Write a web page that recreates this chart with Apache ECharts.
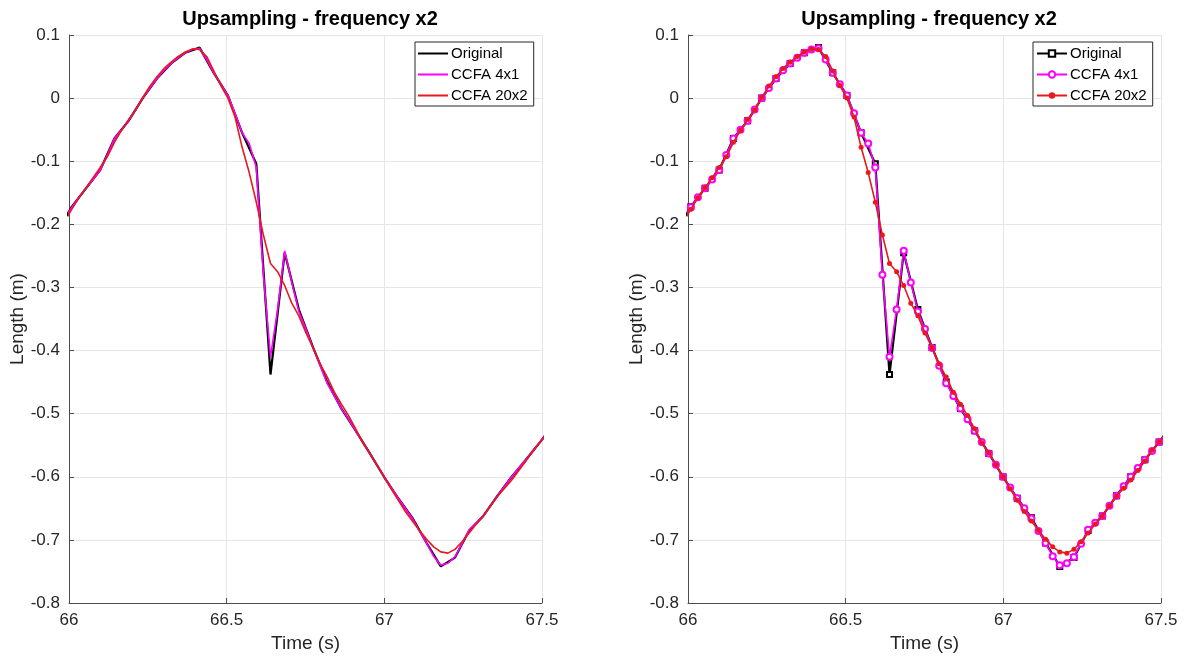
<!DOCTYPE html>
<html>
<head>
<meta charset="utf-8">
<title>Upsampling - frequency x2</title>
<script src="https://cdn.jsdelivr.net/npm/echarts@6/dist/echarts.min.js"></script>
<style>
  html, body { margin: 0; padding: 0; background: #fff; }
  #chart { width: 1188px; height: 659px; }
</style>
</head>
<body>
<div id="chart"></div>
<script>
// Original samples (s, m)
const origTime = [65.964, 66.009, 66.054, 66.099, 66.144, 66.189, 66.234, 66.279, 66.324, 66.369,
  66.414, 66.459, 66.504, 66.549, 66.594, 66.639, 66.684, 66.729, 66.774, 66.819,
  66.864, 66.909, 66.954, 66.999, 67.044, 67.089, 67.134, 67.179, 67.224, 67.269,
  67.314, 67.359, 67.404, 67.449, 67.494, 67.539];
const origLength = [-0.210, -0.172, -0.143, -0.114, -0.064, -0.036, 0.000, 0.031, 0.055, 0.072,
  0.080, 0.040, 0.004, -0.055, -0.104, -0.438, -0.245, -0.335, -0.395, -0.450,
  -0.492, -0.527, -0.563, -0.600, -0.634, -0.665, -0.705, -0.742, -0.728, -0.685,
  -0.662, -0.630, -0.600, -0.573, -0.545, -0.515];

// Upsampled time base (twice the original rate)
const upTime = [65.9865, 66.009, 66.0315, 66.054, 66.0765, 66.099, 66.1215, 66.144, 66.1665, 66.189,
  66.2115, 66.234, 66.2565, 66.279, 66.3015, 66.324, 66.3465, 66.369, 66.3915, 66.414,
  66.4365, 66.459, 66.4815, 66.504, 66.5265, 66.549, 66.5715, 66.594, 66.6165, 66.639,
  66.6615, 66.684, 66.7065, 66.729, 66.7515, 66.774, 66.7965, 66.819, 66.8415, 66.864,
  66.8865, 66.909, 66.9315, 66.954, 66.9765, 66.999, 67.0215, 67.044, 67.0665, 67.089,
  67.1115, 67.134, 67.1565, 67.179, 67.2015, 67.224, 67.2465, 67.269, 67.2915, 67.314,
  67.3365, 67.359, 67.3815, 67.404, 67.4265, 67.449, 67.4715, 67.494, 67.5165];

// CCFA 4x1 output
const ccfa4x1 = [-0.190, -0.173, -0.157, -0.143, -0.129, -0.114, -0.090, -0.064, -0.050, -0.036,
  -0.018, 0.000, 0.016, 0.031, 0.044, 0.055, 0.064, 0.072, 0.077, 0.079,
  0.061, 0.040, 0.022, 0.004, -0.024, -0.055, -0.072, -0.110, -0.280, -0.410,
  -0.335, -0.242, -0.292, -0.338, -0.366, -0.396, -0.424, -0.452, -0.472, -0.492,
  -0.509, -0.527, -0.545, -0.563, -0.581, -0.600, -0.617, -0.634, -0.650, -0.666,
  -0.686, -0.705, -0.726, -0.740, -0.737, -0.727, -0.706, -0.684, -0.673, -0.662,
  -0.646, -0.630, -0.615, -0.600, -0.586, -0.573, -0.559, -0.545, -0.530];

// CCFA 20x2 output
const ccfa20x2 = [-0.195, -0.176, -0.158, -0.142, -0.126, -0.110, -0.093, -0.070, -0.051, -0.034,
  -0.019, 0.001, 0.019, 0.034, 0.047, 0.057, 0.066, 0.073, 0.078, 0.077,
  0.066, 0.043, 0.020, 0.000, -0.030, -0.078, -0.118, -0.165, -0.217, -0.262,
  -0.275, -0.297, -0.325, -0.345, -0.372, -0.396, -0.421, -0.442, -0.466, -0.485,
  -0.503, -0.524, -0.546, -0.562, -0.581, -0.600, -0.619, -0.637, -0.655, -0.670,
  -0.685, -0.699, -0.711, -0.719, -0.721, -0.715, -0.703, -0.689, -0.675, -0.662,
  -0.646, -0.631, -0.618, -0.605, -0.590, -0.575, -0.558, -0.545, -0.533];

const seriesNames = ['Original', 'CCFA 4x1', 'CCFA 20x2'];
const panelTitle = 'Upsampling - frequency x2';
const xTicks = { min: 66, max: 67.5, step: 0.5 };
const yTicks = { min: -0.8, max: 0.1, step: 0.1 };

const FONT = 'Liberation Sans, Arial, Helvetica, sans-serif';
const TXT = '#262626';
const COL = { orig: '#000000', c4: '#ff00ff', c20: '#e8191c' };

function pairs(t, v) { return t.map((x, i) => [x, v[i]]); }

function xAxisFor(gi) {
  return {
    type: 'value', gridIndex: gi, min: xTicks.min, max: xTicks.max, interval: xTicks.step,
    name: 'Time (s)', nameLocation: 'middle', nameGap: 31,
    nameTextStyle: { fontFamily: FONT, fontSize: 19, color: TXT },
    axisLine: { onZero: false, lineStyle: { color: '#4d4d4d', width: 1 } },
    axisTick: { inside: true, length: 5, lineStyle: { color: '#4d4d4d' } },
    axisLabel: { fontFamily: FONT, fontSize: 17, color: TXT, margin: 9,
      formatter: v => String(+v.toFixed(1)) },
    splitLine: { show: true, lineStyle: { color: '#e6e6e6', width: 1 } }
  };
}
function yAxisFor(gi) {
  return {
    type: 'value', gridIndex: gi, min: yTicks.min, max: yTicks.max, interval: yTicks.step,
    name: 'Length (m)', nameLocation: 'middle', nameGap: 40,
    nameTextStyle: { fontFamily: FONT, fontSize: 19, color: TXT },
    axisLine: { show: true, onZero: false, lineStyle: { color: '#4d4d4d', width: 1 } },
    axisTick: { show: true, inside: true, length: 5, lineStyle: { color: '#4d4d4d' } },
    axisLabel: { fontFamily: FONT, fontSize: 17, color: TXT, margin: 9,
      formatter: v => { const r = +v.toFixed(1); return r === 0 ? '0' : String(r); } },
    splitLine: { show: true, lineStyle: { color: '#e6e6e6', width: 1 } }
  };
}

function legendFor(left, top, names, extra) {
  return Object.assign({
    orient: 'vertical', left: left, top: top,
    data: names,
    formatter: n => n.replace(' #2', ''),
    itemWidth: 30, itemHeight: 8, itemGap: 6,
    padding: [4, 6, 3, 3],
    backgroundColor: '#ffffff', borderColor: '#262626', borderWidth: 1,
    textStyle: { fontFamily: FONT, fontSize: 15, color: '#000', padding: [0, 0, 0, -2] },
    selectedMode: false
  }, extra || {});
}

const sufR = ' #2';
const titleStyle = { fontFamily: FONT, fontSize: 20, fontWeight: 'bold', color: '#000' };
const option = {
  animation: false,
  backgroundColor: '#ffffff',
  title: [
    { text: panelTitle, left: 305, top: 4, textAlign: 'center', textStyle: titleStyle },
    { text: panelTitle, left: 924, top: 4, textAlign: 'center', textStyle: titleStyle }
  ],
  grid: [
    { left: 69, top: 35, width: 473, height: 568 },
    { left: 688, top: 35, width: 473, height: 568 }
  ],
  xAxis: [xAxisFor(0), xAxisFor(1)],
  yAxis: [yAxisFor(0), yAxisFor(1)],
  legend: [
    // left panel has plain lines, so its key shows plain strokes
    legendFor(415, 42, seriesNames, { icon: 'rect', itemHeight: 2 }),
    legendFor(1033, 42, seriesNames.map(n => n + sufR))
  ],
  series: [
    // left panel: lines only
    { name: seriesNames[0], type: 'line', xAxisIndex: 0, yAxisIndex: 0, symbol: 'none',
      data: pairs(origTime, origLength), lineStyle: { color: COL.orig, width: 2.2 },
      itemStyle: { color: COL.orig }, z: 2 },
    { name: seriesNames[1], type: 'line', xAxisIndex: 0, yAxisIndex: 0, symbol: 'none',
      data: pairs(upTime, ccfa4x1), lineStyle: { color: COL.c4, width: 1.6 },
      itemStyle: { color: COL.c4 }, z: 3 },
    { name: seriesNames[2], type: 'line', xAxisIndex: 0, yAxisIndex: 0, symbol: 'none',
      data: pairs(upTime, ccfa20x2), lineStyle: { color: COL.c20, width: 1.6 },
      itemStyle: { color: COL.c20 }, z: 4 },
    // right panel: lines with markers
    { name: seriesNames[0] + sufR, type: 'line', xAxisIndex: 1, yAxisIndex: 1,
      symbol: 'emptyRect', symbolSize: 5, showAllSymbol: true,
      data: pairs(origTime, origLength), lineStyle: { color: COL.orig, width: 2.2 },
      itemStyle: { color: COL.orig, borderColor: COL.orig, borderWidth: 2.5 }, z: 2 },
    { name: seriesNames[1] + sufR, type: 'line', xAxisIndex: 1, yAxisIndex: 1,
      symbol: 'emptyCircle', symbolSize: 6, showAllSymbol: true,
      data: pairs(upTime, ccfa4x1), lineStyle: { color: COL.c4, width: 1.6 },
      itemStyle: { color: COL.c4, borderColor: COL.c4, borderWidth: 2 }, z: 3 },
    { name: seriesNames[2] + sufR, type: 'line', xAxisIndex: 1, yAxisIndex: 1,
      symbol: 'circle', symbolSize: 5, showAllSymbol: true,
      data: pairs(upTime, ccfa20x2), lineStyle: { color: COL.c20, width: 1.6 },
      itemStyle: { color: COL.c20 }, z: 4 }
  ]
};

const chart = echarts.init(document.getElementById('chart'), null, { renderer: 'canvas' });
chart.setOption(option);
</script>
</body>
</html>
